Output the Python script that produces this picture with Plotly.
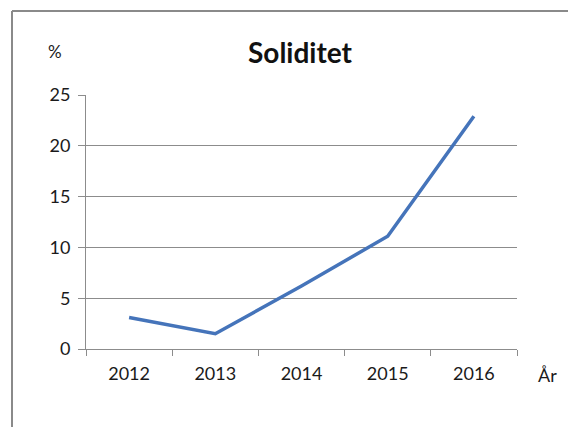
import plotly.graph_objects as go

years = ["2012", "2013", "2014", "2015", "2016"]
soliditet = [3.1, 1.5, 6.2, 11.1, 22.9]
y_ticks = [0, 5, 10, 15, 20, 25]

FONT = "Lato"
# screen geometry (browser page has an 8px body margin)
OFF = 8
PL, PR, PT, PB = 86, 517, 95, 349
W, H = 576 - 2 * OFF, 435 - 2 * OFF
pw, ph = PR - PL, PB - PT

def px(x):
    return (x - PL) / pw

def py(y):
    return (PB - y) / ph

fig = go.Figure()
fig.add_trace(go.Scatter(
    x=years, y=soliditet, mode="lines",
    line=dict(color="#4574BA", width=3.5),
    showlegend=False, hoverinfo="skip",
))

frame = dict(color="#8a8a8a", width=2)
fig.update_layout(
    width=W, height=H,
    margin=dict(l=PL - OFF, r=W + OFF - PR, t=PT - OFF, b=H + OFF - PB),
    paper_bgcolor="white", plot_bgcolor="white",
    font=dict(family=FONT, size=18, color="#1a1a1a"),
    xaxis=dict(
        type="category", range=[-0.5, 4.5],
        showline=True, linecolor="#8c8c8c", linewidth=1,
        ticks="outside", tickson="boundaries", ticklen=6, tickcolor="#8c8c8c",
        showgrid=False, ticklabelstandoff=8, zeroline=False,
    ),
    yaxis=dict(
        range=[0, 25], tickvals=y_ticks,
        showline=True, linecolor="#8c8c8c", linewidth=1,
        ticks="outside", ticklen=7, tickcolor="#8c8c8c",
        showgrid=True, gridcolor="#8c8c8c", gridwidth=1,
        zeroline=False, ticklabelstandoff=4,
    ),
    shapes=[
        dict(type="line", xref="paper", yref="paper",
             x0=px(12), x1=px(600), y0=py(11), y1=py(11), line=frame, layer="below"),
        dict(type="line", xref="paper", yref="paper",
             x0=px(12), x1=px(12), y0=py(11), y1=py(600), line=frame, layer="below"),
    ],
    annotations=[
        dict(text="<b>Soliditet</b>", xref="paper", yref="paper", x=px(300), y=py(52),
             xanchor="center", yanchor="middle", showarrow=False,
             font=dict(size=28, family=FONT, color="#111")),
        dict(text="%", xref="paper", yref="paper", x=px(55), y=py(51),
             xanchor="center", yanchor="middle", showarrow=False, font=dict(size=17, family=FONT)),
        dict(text="År", xref="paper", yref="paper", x=px(547), y=py(375),
             xanchor="center", yanchor="middle", showarrow=False, font=dict(size=18, family=FONT)),
    ],
)

fig.write_html("out.html")
